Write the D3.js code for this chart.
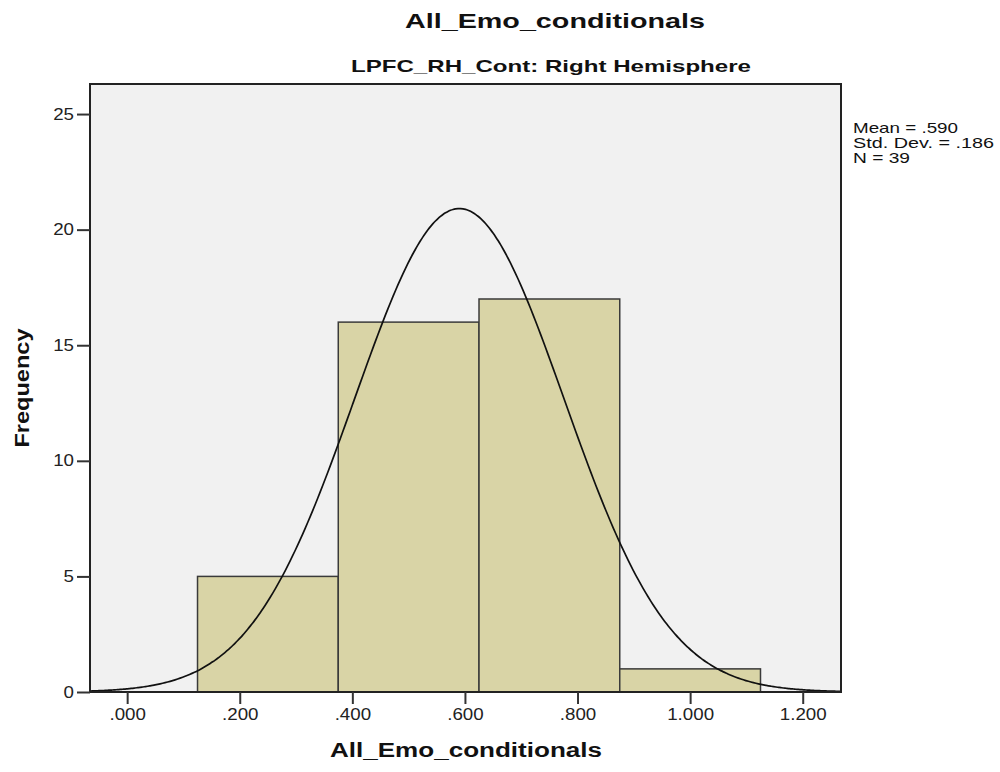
<!DOCTYPE html>
<html><head><meta charset="utf-8">
<script src="https://cdn.jsdelivr.net/npm/d3@7"></script>
<style>body{margin:0;background:#fff}svg{display:block;font-family:"Liberation Sans",Arial,sans-serif}</style>
</head><body><svg id="c" width="1000" height="772"></svg>
<script>
// ---- data ----
const binStarts = [0.125, 0.375, 0.625, 0.875];
const binEnds   = [0.375, 0.625, 0.875, 1.125];
const counts    = [5, 16, 17, 1];
const xTicks = [0, 0.2, 0.4, 0.6, 0.8, 1.0, 1.2];
const yTicks = [0, 5, 10, 15, 20, 25];
const statLabels = ["Mean = .590", "Std. Dev. = .186", "N = 39"];
const meanVal = [0.590];
const sdVal = [0.186];
const nVal = [39];

const svg = d3.select("#c");
const L = 90, R = 841, T = 84, B = 692;
const x = d3.scaleLinear().domain([-0.066, 1.268]).range([L, R]);
const y = d3.scaleLinear().domain([0, 26.3]).range([B, T]);

// plot background
svg.append("rect").attr("x", L).attr("y", T).attr("width", R - L).attr("height", B - T).attr("fill", "#f1f1f1");

// bars
svg.append("g").selectAll("rect").data(counts).join("rect")
  .attr("x", (d, i) => x(binStarts[i]))
  .attr("width", (d, i) => x(binEnds[i]) - x(binStarts[i]))
  .attr("y", d => y(d))
  .attr("height", d => y(0) - y(d))
  .attr("fill", "#d9d4a6").attr("stroke", "#3a3a3a").attr("stroke-width", 1.5);

// normal curve from mean, sd, N, bin width
const bw = binEnds[0] - binStarts[0];
const mu = meanVal[0], sd = sdVal[0], N = nVal[0];
const xs = d3.range(0, 301).map(i => x.domain()[0] + (x.domain()[1] - x.domain()[0]) * i / 300);
const pdf = v => N * bw / (sd * Math.sqrt(2 * Math.PI)) * Math.exp(-0.5 * ((v - mu) / sd) ** 2);
svg.append("path").datum(xs)
  .attr("d", d3.line().x(v => x(v)).y(v => y(pdf(v))).curve(d3.curveBasis))
  .attr("fill", "none").attr("stroke", "#111").attr("stroke-width", 1.7);

// frame
svg.append("rect").attr("x", L).attr("y", T).attr("width", R - L).attr("height", B - T)
  .attr("fill", "none").attr("stroke", "#222").attr("stroke-width", 2);

// axes
const fmt = v => d3.format(".3f")(v).replace(/^0\./, ".");
const xa = svg.append("g").attr("transform", `translate(0,${B})`)
  .call(d3.axisBottom(x).tickValues(xTicks).tickFormat(fmt).tickSize(12).tickPadding(5));
const ya = svg.append("g").attr("transform", `translate(${L},0)`)
  .call(d3.axisLeft(y).tickValues(yTicks).tickSize(13).tickPadding(3));
[xa, ya].forEach(a => {
  a.select(".domain").remove();
  a.selectAll("line").attr("stroke", "#333").attr("stroke-width", 2);
  a.selectAll("text").attr("fill", "#222").style("font-size", "16px")
    .style("font-family", "'Liberation Sans',Arial,sans-serif")
    .each(function () {
      const w = this.getComputedTextLength();
      d3.select(this).attr("textLength", w * 1.17).attr("lengthAdjust", "spacingAndGlyphs");
    });
});

// titles
svg.append("text").attr("x", 555).attr("y", 28).attr("text-anchor", "middle")
  .attr("font-weight", "bold").attr("font-size", 21).attr("fill", "#111")
  .attr("textLength", 300).attr("lengthAdjust", "spacingAndGlyphs").text("All_Emo_conditionals");
svg.append("text").attr("x", 551).attr("y", 72).attr("text-anchor", "middle")
  .attr("font-weight", "bold").attr("font-size", 17).attr("fill", "#111")
  .attr("textLength", 400).attr("lengthAdjust", "spacingAndGlyphs").text("LPFC_RH_Cont: Right Hemisphere");
svg.append("text").attr("x", 466).attr("y", 757).attr("text-anchor", "middle")
  .attr("font-weight", "bold").attr("font-size", 20).attr("fill", "#111")
  .attr("textLength", 272).attr("lengthAdjust", "spacingAndGlyphs").text("All_Emo_conditionals");
svg.append("text").attr("transform", "translate(29,388) rotate(-90)").attr("text-anchor", "middle")
  .attr("font-weight", "bold").attr("font-size", 21).attr("fill", "#111")
  .attr("textLength", 119).attr("lengthAdjust", "spacingAndGlyphs").text("Frequency");

// stats legend
const statW = [105, 141, 57];
svg.append("g").selectAll("text").data(statLabels).join("text")
  .attr("x", 853).attr("y", (d, i) => 133 + i * 15)
  .attr("font-size", 15).attr("fill", "#111")
  .attr("textLength", (d, i) => statW[i]).attr("lengthAdjust", "spacingAndGlyphs")
  .text(d => d);
</script></body></html>
